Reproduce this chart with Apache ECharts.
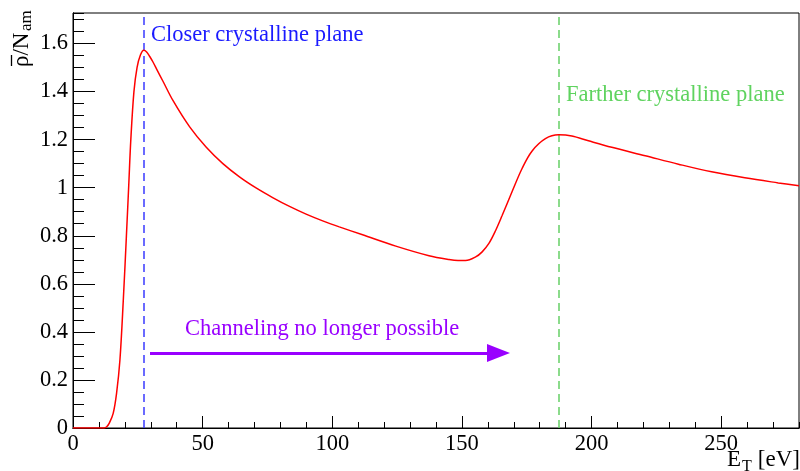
<!DOCTYPE html>
<html>
<head>
<meta charset="utf-8">
<script src="https://cdn.jsdelivr.net/npm/echarts@6/dist/echarts.min.js"></script>
<style>
html,body{margin:0;padding:0;background:#fff;}
#chart{width:800px;height:471px;}
</style>
</head>
<body>
<div id="chart"></div>
<script>
// ---- data ----
const energy = [0, 6, 12, 13, 14, 15.5, 16.8, 18.1, 19.4, 20.6, 21.5, 22.3, 23.5, 24.7, 26.0, 27.3, 28.4, 29.6, 30.9, 32.5, 34.7, 38.6, 45, 51.4, 57.8, 64.2, 70.6, 77, 83.5, 89.9, 96.3, 102.7, 111.7, 124.5, 137.3, 145, 148.5, 151.4, 155.3, 157.8, 160.4, 163, 165.5, 169.4, 173.2, 177, 182.2, 187.3, 192.4, 198.8, 207.8, 220.7, 233.5, 246.3, 259.1, 272, 280];
const density = [0, 0, 0, 0.005, 0.02, 0.061, 0.144, 0.283, 0.532, 0.80, 1.01, 1.20, 1.40, 1.50, 1.552, 1.572, 1.565, 1.546, 1.522, 1.488, 1.443, 1.362, 1.253, 1.168, 1.100, 1.045, 0.999, 0.959, 0.922, 0.890, 0.862, 0.837, 0.804, 0.757, 0.717, 0.701, 0.697, 0.697, 0.712, 0.733, 0.768, 0.822, 0.884, 0.985, 1.080, 1.152, 1.204, 1.220, 1.215, 1.195, 1.168, 1.133, 1.098, 1.066, 1.041, 1.020, 1.008];
const planeEnergies = [27.3, 187.3];
const planeLabels = ['Closer crystalline plane', 'Farther crystalline plane'];
const arrowStart = [29.7, 0.312];
const arrowEnd = [164.1, 0.312];
const arrowLabel = 'Channeling no longer possible';
const xRange = [0, 280];
const yRange = [0, 1.727];

const SERIF = "'Liberation Serif', 'Times New Roman', serif";
const FS = 22.5;

const chart = echarts.init(document.getElementById('chart'), null, {renderer: 'canvas'});

const commonX = {
  type: 'value', min: xRange[0], max: xRange[1], position: 'bottom', offset: 0,
  splitLine: {show: false},
  axisLine: {show: true, onZero: false, lineStyle: {color: '#000', width: 1}}
};
const commonY = {
  type: 'value', min: yRange[0], max: yRange[1], position: 'left', offset: 0,
  splitLine: {show: false},
  axisLine: {show: true, onZero: false, lineStyle: {color: '#000', width: 1}}
};

const option = {
  animation: false,
  backgroundColor: '#fff',
  grid: {left: 73, right: 1, top: 13, bottom: 43, show: true, borderColor: '#000', borderWidth: 1, backgroundColor: 'transparent'},
  xAxis: [
    Object.assign({}, commonX, {
      interval: 50,
      axisTick: {show: true, inside: true, length: 12, lineStyle: {color: '#000'}},
      axisLabel: {show: true, margin: 5, color: '#000', fontFamily: SERIF, fontSize: FS, showMaxLabel: false}
    }),
    Object.assign({}, commonX, {
      interval: 10,
      axisTick: {show: true, inside: true, length: 6, lineStyle: {color: '#000'}},
      axisLabel: {show: false}
    })
  ],
  yAxis: [
    Object.assign({}, commonY, {
      interval: 0.2,
      axisTick: {show: true, inside: true, length: 22, lineStyle: {color: '#000'}},
      axisLabel: {show: true, margin: 5, color: '#000', fontFamily: SERIF, fontSize: FS, showMaxLabel: false}
    }),
    Object.assign({}, commonY, {
      interval: 0.05,
      axisTick: {show: true, inside: true, length: 11, lineStyle: {color: '#000'}},
      axisLabel: {show: false}
    })
  ],
  series: [
    {
      type: 'line',
      xAxisIndex: 0, yAxisIndex: 0,
      data: energy.map((e, i) => [e, density[i]]),
      showSymbol: false,
      smooth: 0.35,
      lineStyle: {color: '#ff0000', width: 1.5},
      z: 5,
      markLine: {
        silent: true,
        symbol: ['none', 'none'],
        label: {show: false},
        data: [
          {xAxis: planeEnergies[0], lineStyle: {color: '#3a3aff', type: [8, 5], width: 1.5}},
          {xAxis: planeEnergies[1], lineStyle: {color: '#66d066', type: [8, 5], width: 1.5}}
        ]
      }
    },
    {
      type: 'line',
      xAxisIndex: 0, yAxisIndex: 0,
      data: [],
      markLine: {
        silent: true,
        label: {show: false},
        lineStyle: {color: '#9900ff', width: 3, type: 'solid'},
        data: [[
          {coord: arrowStart, symbol: 'none'},
          {coord: arrowEnd, symbol: 'triangle', symbolSize: [18, 23]}
        ]]
      }
    }
  ],
  graphic: [
    {type: 'text', left: 151, top: 24, style: {text: planeLabels[0], fill: '#1a1aff', font: FS + 'px ' + SERIF}},
    {type: 'text', left: 566, top: 84, style: {text: planeLabels[1], fill: '#5fd35f', font: FS + 'px ' + SERIF}},
    {type: 'text', left: 185, top: 318, style: {text: arrowLabel, fill: '#9900ff', font: FS + 'px ' + SERIF}},
    // x axis title
    {type: 'text', x: 727, y: 460, style: {text: 'E', fill: '#000', font: '23px ' + SERIF, verticalAlign: 'middle', align: 'left'}},
    {type: 'text', x: 742, y: 467, style: {text: 'T', fill: '#000', font: '16px ' + SERIF, verticalAlign: 'middle', align: 'left'}},
    {type: 'text', x: 800, y: 460, style: {text: '[eV]', fill: '#000', font: '23px ' + SERIF, verticalAlign: 'middle', align: 'right'}},
    // y axis title (rotated)
    {type: 'group', x: 30, y: 67, rotation: Math.PI / 2, children: [
      {type: 'text', x: 0, y: -7.6, style: {text: 'ρ/N', fill: '#000', font: '23px ' + SERIF, verticalAlign: 'middle', align: 'left'}},
      {type: 'line', shape: {x1: 1, y1: -18.5, x2: 12, y2: -18.5}, style: {stroke: '#000', lineWidth: 1.3}},
      {type: 'text', x: 36, y: -3.6, style: {text: 'am', fill: '#000', font: '17px ' + SERIF, verticalAlign: 'middle', align: 'left'}}
    ]}
  ]
};
chart.setOption(option);
</script>
</body>
</html>
